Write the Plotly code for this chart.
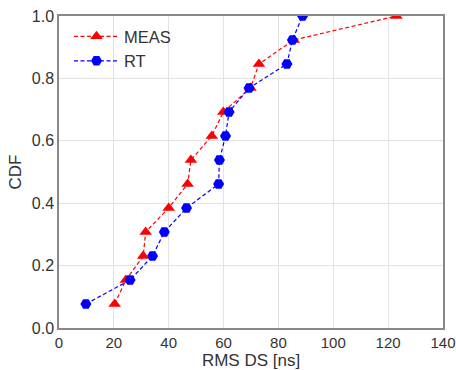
import plotly.graph_objects as go

cdf = [1/13*i for i in range(1, 14)]
meas_x = [20.3, 24.4, 30.7, 31.6, 40.0, 46.9, 48.1, 55.7, 59.9, 69.8, 72.9, 85.6, 123.0]
rt_x = [9.8, 25.9, 34.1, 38.4, 46.5, 58.2, 58.5, 60.7, 62.0, 69.3, 83.1, 85.1, 88.8]
x_ticks = [0, 20, 40, 60, 80, 100, 120, 140]
y_ticks = [0.0, 0.2, 0.4, 0.6, 0.8, 1.0]

FONT = "Liberation Sans, Arial"
fig = go.Figure()
fig.add_trace(go.Scatter(x=meas_x, y=cdf, name="MEAS", mode="lines+markers", legendgroup="a",
                         line=dict(color="red", width=1.2, dash="4px,2.5px"),
                         marker=dict(symbol="triangle-up", size=11, color="red")))
fig.add_trace(go.Scatter(x=rt_x, y=cdf, name="RT", mode="lines+markers", legendgroup="b",
                         line=dict(color="blue", width=1.2, dash="4px,2.5px"),
                         marker=dict(symbol="hexagon2", size=11, color="blue")))

axis_common = dict(showgrid=True, gridcolor="#e3e3e3", gridwidth=1,
                   showline=True, linecolor="#888888", linewidth=1.5, mirror=True,
                   ticks="", zeroline=False, automargin=False)
fig.update_xaxes(range=[0, 140], tickvals=x_ticks, ticktext=[str(v) for v in x_ticks],
                 tickfont=dict(family=FONT, size=15, color="#333333"),
                 title=dict(text="RMS DS [ns]", font=dict(family=FONT, size=17, color="#333333"), standoff=1),
                 **axis_common)
fig.update_yaxes(range=[0, 1.0], tickvals=y_ticks, ticktext=[f"{v:.1f}" for v in y_ticks],
                 tickfont=dict(family=FONT, size=16, color="#333333"),
                 title=dict(text="CDF", font=dict(family=FONT, size=17, color="#333333"), standoff=6),
                 **axis_common)
fig.update_layout(width=456, height=370, margin=dict(l=59, r=13, t=16, b=42),
                  template="none",
                  plot_bgcolor="white", paper_bgcolor="white",
                  legend=dict(x=0.026, y=0.99, xanchor="left", yanchor="top",
                              bgcolor="rgba(255,255,255,0)", itemwidth=45,
                              traceorder="grouped", tracegroupgap=0,
                              font=dict(family=FONT, size=16.5, color="#333333")),
                  font=dict(family=FONT))
fig.write_html("out.html", config={"displayModeBar": False},
               post_script="document.body.style.margin='0';document.body.style.overflow='hidden';document.documentElement.style.overflow='hidden';")
